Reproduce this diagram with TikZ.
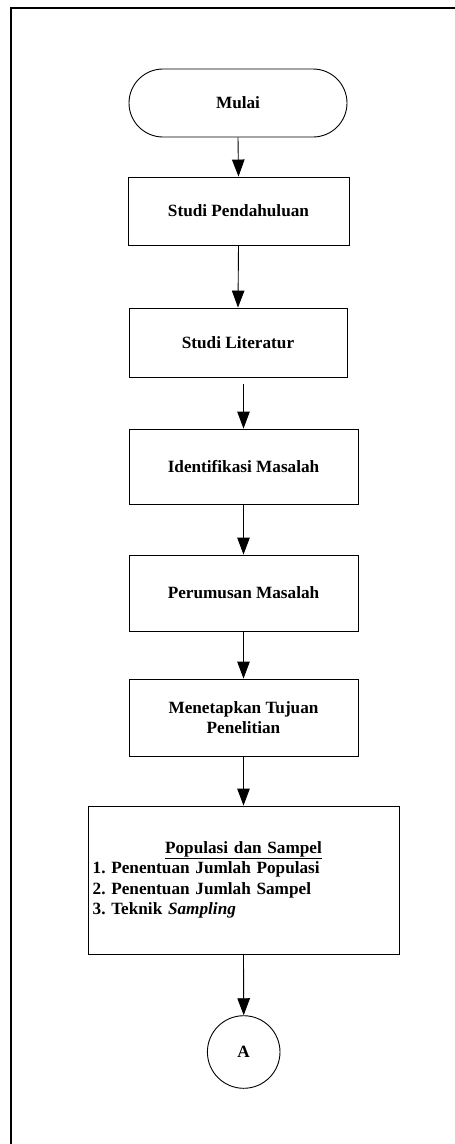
\documentclass[tikz,border=0pt]{standalone}
\usepackage{fontspec}
\setmainfont{Liberation Serif}
\usetikzlibrary{arrows.meta,shapes.misc}
\begin{document}
\frenchspacing
\begin{tikzpicture}[x=1pt,y=-1pt,
  every node/.style={font=\fontsize{17.2}{20.5}\selectfont\bfseries\frenchspacing, text=black},
  stepbox/.style={draw=black, line width=0.9pt, rectangle, inner sep=0pt, align=center},
  termbox/.style={draw=black, line width=0.9pt, rounded rectangle, minimum width=218pt, minimum height=68pt, inner sep=0pt},
  conn/.style={draw=black, line width=0.9pt, -{Triangle[length=17pt,width=12.5pt]}},
  frameline/.style={draw=black, line width=2pt}]
\useasboundingbox (0,0) rectangle (455,1144);
\draw[frameline] (456,8) -- (11,8) -- (11,1145);
\node[termbox] (mulai) at (238,103) {Mulai};
\node[stepbox, minimum width=221pt, minimum height=68pt] (sp) at (238.5,211) {Studi Pendahuluan};
\node[stepbox, minimum width=218pt, minimum height=69pt] (sl) at (238,342.5) {Studi Literatur};
\node[stepbox, minimum width=229pt, minimum height=75pt] (im) at (243.5,466.5) {Identifikasi Masalah};
\node[stepbox, minimum width=229pt, minimum height=76pt] (pm) at (243.5,593) {Perumusan Masalah};
\node[stepbox, minimum width=229pt, minimum height=77pt] (mt) at (243.5,717.5) {Menetapkan Tujuan\\Penelitian};
\node[stepbox, minimum width=311pt, minimum height=148pt, text width=301.6pt, inner xsep=4.7pt, align=left] (pop) at (243.5,880)
  {\frenchspacing\centering\underline{Populasi dan Sampel}\par\raggedright 1. Penentuan Jumlah Populasi\\2. Penentuan Jumlah Sampel\\3. Teknik \textit{Sampling}};
\node[draw=black, line width=0.9pt, circle, minimum size=72.6pt, inner sep=0pt] (a) at (243.7,1052) {A};
\draw[conn] (mulai.south) -- (sp.north);
\draw[conn] (sp.south) -- (sl.north);
\draw[conn, shorten <=7pt] (sl.south -| im.north) -- (im.north);
\draw[conn] (im.south) -- (pm.north);
\draw[conn] (pm.south) -- (mt.north);
\draw[conn] (mt.south) -- (pop.north);
\draw[conn] (pop.south) -- (a.north);
\end{tikzpicture}
\end{document}
